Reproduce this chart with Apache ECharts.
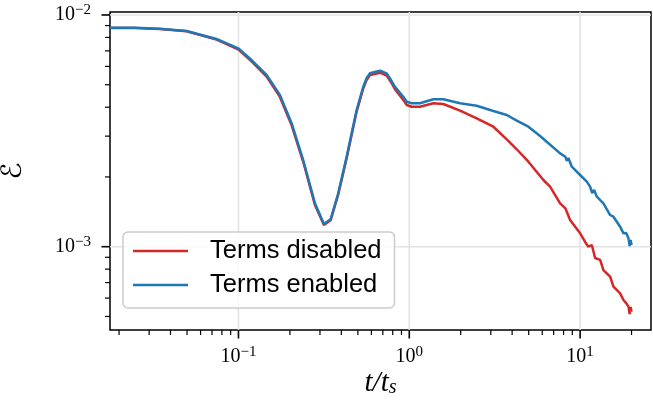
<!DOCTYPE html>
<html><head><meta charset="utf-8">
<script src="https://cdn.jsdelivr.net/npm/echarts@6/dist/echarts.min.js"></script>
<style>html,body{margin:0;padding:0;background:#fff}#c{width:653px;height:411px}</style>
</head><body><div id="c"></div>
<script>
// ---- data ----
const tDisabled = [0.0177,0.0247,0.0346,0.0497,0.0744,0.0996,0.1193,0.1461,0.1748,0.2047,0.2393,0.2803,0.3164,0.3463,0.3838,0.4298,0.4918,0.5376,0.5614,0.5886,0.6738,0.7374,0.7813,0.8244,0.9224,0.9656,1.033,1.155,1.382,1.582,1.982,2.482,3.106,3.721,4.257,4.979,6.095,6.672,7.634,8.196,8.358,8.738,10.0,10.7,11.18,11.71,12.24,13.1,13.69,14.99,15.67,17.15,17.94,18.6,19.19,19.5,19.76,20.0];
const eDisabled = [0.00879,0.00878,0.00870,0.00850,0.00783,0.00711,0.00631,0.00542,0.00443,0.00334,0.002325,0.001515,0.001240,0.001300,0.001680,0.002410,0.003830,0.004820,0.005220,0.005500,0.005636,0.005480,0.005140,0.004780,0.004300,0.004088,0.004019,0.004019,0.004158,0.004129,0.003864,0.003575,0.003294,0.002907,0.002633,0.002327,0.00194,0.001816,0.001539,0.001464,0.001476,0.001304,0.001142,0.001048,0.00100,0.001017,0.000894,0.000877,0.000793,0.000742,0.000672,0.000629,0.000589,0.000571,0.000551,0.000512,0.000549,0.000524];
const tEnabled = [0.0177,0.0247,0.0346,0.0497,0.0744,0.0996,0.1193,0.1461,0.1748,0.2047,0.2393,0.2803,0.3164,0.3463,0.3838,0.4298,0.4918,0.5376,0.5614,0.5886,0.6738,0.7374,0.7813,0.8244,0.9224,0.9656,1.033,1.155,1.382,1.582,1.982,2.482,3.106,3.721,4.257,4.979,5.831,7.634,8.196,8.358,8.54,8.94,10.0,10.94,11.44,11.76,12.08,12.53,13.69,14.99,15.67,17.15,17.94,18.6,19.19,19.5,19.76,20.0];
const eEnabled = [0.00881,0.00880,0.00872,0.00853,0.00788,0.00718,0.00639,0.00551,0.00452,0.00341,0.002366,0.001539,0.001253,0.001313,0.00170,0.002446,0.003890,0.004900,0.005320,0.005600,0.005749,0.005600,0.005240,0.004900,0.004440,0.004224,0.004158,0.004158,0.004326,0.004326,0.004158,0.004059,0.003852,0.003701,0.003498,0.003294,0.003005,0.002529,0.002446,0.002344,0.002415,0.002214,0.002039,0.001908,0.001816,0.001705,0.001757,0.001643,0.001539,0.00137,0.001347,0.00122,0.001142,0.001146,0.001087,0.001007,0.001069,0.001017];
const seriesNames = ['Terms disabled', 'Terms enabled'];
const xMajorTicks = [0.1, 1, 10];
const xMajorExps = ['\u22121', '0', '1'];
const xMinorTicks = [0.02,0.03,0.04,0.05,0.06,0.07,0.08,0.09,0.2,0.3,0.4,0.5,0.6,0.7,0.8,0.9,2,3,4,5,6,7,8,9,20];
const yMajorTicks = [0.001, 0.01];
const yMajorExps = ['\u22123', '\u22122'];
const yMinorTicks = [0.0005,0.0006,0.0007,0.0008,0.0009,0.002,0.003,0.004,0.005,0.006,0.007,0.008,0.009];
const X_MIN = 0.0177, X_MAX = 26, Y_MIN = 0.000437, Y_MAX = 0.0103;

const SERIF = "'Liberation Serif','DejaVu Serif',serif";
const RICH = {
  b: {fontFamily: SERIF, fontSize: 20, lineHeight: 24, color: '#000'},
  s: {fontFamily: SERIF, fontSize: 15, verticalAlign: 'top', color: '#000'}
};

function zip(a, b) { return a.map((v, i) => [v, b[i]]); }

function gridSeries(axis, values) {
  return {
    type: 'custom', coordinateSystem: 'cartesian2d', silent: true, clip: false, z: 1, animation: false,
    data: values.map(v => axis === 'x' ? [v, Y_MIN] : [X_MIN, v]),
    renderItem: (params, api) => {
      const v0 = api.value(0), v1 = api.value(1);
      const a = axis === 'x' ? api.coord([v0, Y_MIN]) : api.coord([X_MIN, v1]);
      const b = axis === 'x' ? api.coord([v0, Y_MAX]) : api.coord([X_MAX, v1]);
      return {type: 'line', shape: {x1: a[0], y1: a[1], x2: b[0], y2: b[1]},
        style: {stroke: '#e3e3e3', lineWidth: 1.6}};
    }
  };
}
function tickSeries(axis, values, len, width) {
  return {
    type: 'custom', coordinateSystem: 'cartesian2d', silent: true, clip: false, z: 4, animation: false,
    data: values.map(v => axis === 'x' ? [v, Y_MIN] : [X_MIN, v]),
    renderItem: (params, api) => {
      const p = api.coord([api.value(0), api.value(1)]);
      const shape = axis === 'x' ? {x1: p[0], y1: p[1], x2: p[0], y2: p[1] + len}
                                 : {x1: p[0] - len, y1: p[1], x2: p[0], y2: p[1]};
      return {type: 'line', shape: shape, style: {stroke: '#000', lineWidth: width}};
    }
  };
}
function labelSeries(axis, values, exps) {
  return {
    type: 'custom', coordinateSystem: 'cartesian2d', silent: true, clip: false, z: 4, animation: false,
    data: values.map(v => axis === 'x' ? [v, Y_MIN] : [X_MIN, v]),
    renderItem: (params, api) => {
      const p = api.coord([api.value(0), api.value(1)]);
      const e = exps[params.dataIndex];
      return {type: 'text',
        x: axis === 'x' ? p[0] : p[0] - 19,
        y: axis === 'x' ? p[1] + 15 : p[1],
        style: {text: '{b|10}{s|' + e + '}', rich: RICH,
          align: axis === 'x' ? 'center' : 'right',
          verticalAlign: axis === 'x' ? 'top' : 'middle', fill: '#000'}};
    }
  };
}

const chart = echarts.init(document.getElementById('c'), null, {renderer: 'canvas'});
chart.setOption({
  animation: false,
  backgroundColor: '#fff',
  grid: {left: 110, top: 12, width: 541, height: 318, show: true, borderColor: '#000', borderWidth: 1.5,
    containLabel: false, outerBoundsMode: 'none'},
  xAxis: {
    type: 'log', logBase: 10, min: X_MIN, max: X_MAX,
    axisLine: {show: false}, axisTick: {show: false}, axisLabel: {show: false}, splitLine: {show: false}, minorTick: {show: false},
    name: '{i|t/t}{sub|s}', nameLocation: 'middle', nameGap: 39,
    nameTextStyle: {rich: {
      i: {fontFamily: SERIF, fontStyle: 'italic', fontSize: 29, color: '#000'},
      sub: {fontFamily: SERIF, fontStyle: 'italic', fontSize: 20, verticalAlign: 'bottom', color: '#000'}
    }}
  },
  yAxis: {
    type: 'log', logBase: 10, min: Y_MIN, max: Y_MAX,
    axisLine: {show: false}, axisTick: {show: false}, axisLabel: {show: false}, splitLine: {show: false}, minorTick: {show: false},
    name: '\u2130', nameLocation: 'middle', nameGap: 82,
    nameTextStyle: {fontFamily: "'DejaVu Serif','DejaVu Sans',serif", fontSize: 28, color: '#000'}
  },
  legend: {
    data: seriesNames, orient: 'vertical', left: 123, top: 232,
    icon: 'path://M0,0H55V2.5H0Z',
    padding: [6, 13, 10, 10], itemWidth: 55, itemHeight: 30, itemGap: 8,
    backgroundColor: 'rgba(255,255,255,0.8)', borderColor: '#cccccc', borderWidth: 1.5, borderRadius: 5,
    textStyle: {fontFamily: "'Liberation Sans',Arial,sans-serif", fontSize: 25.5, color: '#000', padding: [0, 0, 0, 17]}
  },
  series: [
    gridSeries('x', xMajorTicks),
    gridSeries('y', yMajorTicks),
    {name: seriesNames[0], type: 'line', data: zip(tDisabled, eDisabled), symbol: 'none', showSymbol: false,
      lineStyle: {color: '#d62728', width: 2.5}, itemStyle: {color: '#d62728'}, z: 2, clip: true},
    {name: seriesNames[1], type: 'line', data: zip(tEnabled, eEnabled), symbol: 'none', showSymbol: false,
      lineStyle: {color: '#1f77b4', width: 2.5}, itemStyle: {color: '#1f77b4'}, z: 2, clip: true},
    tickSeries('x', xMajorTicks, 8.5, 1.6),
    tickSeries('x', xMinorTicks, 5, 1.2),
    tickSeries('y', yMajorTicks, 8.5, 1.6),
    tickSeries('y', yMinorTicks, 5, 1.2),
    labelSeries('x', xMajorTicks, xMajorExps),
    labelSeries('y', yMajorTicks, yMajorExps)
  ]
});
</script></body></html>
